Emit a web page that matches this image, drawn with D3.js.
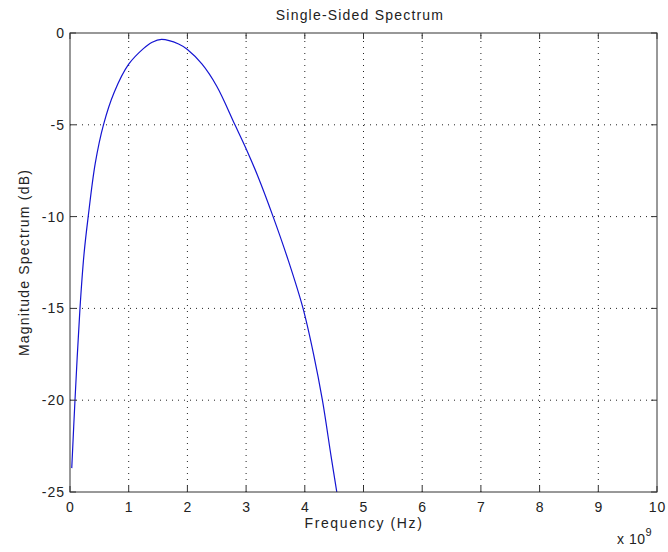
<!DOCTYPE html>
<html lang="en">
<head>
    <meta charset="UTF-8">
    <title>Single-Sided Spectrum</title>
    <script src="https://cdn.jsdelivr.net/npm/d3@7"></script>
    <style>
        body {
            margin: 0;
            background: #fff;
        }

        svg {
            display: block;
            font-family: "Liberation Sans", Arial, sans-serif;
        }

        .box {
            fill: none;
            stroke: #333;
            stroke-width: 1px;
        }

        .grid line {
            stroke: #222;
            stroke-width: 1px;
            stroke-dasharray: 1, 5;
        }

        .tick-mark {
            stroke: #333;
            stroke-width: 1px;
        }

        .tick-label {
            font-size: 14px;
            letter-spacing: 1px;
            fill: #222;
        }

        .label {
            font-size: 14px;
            letter-spacing: 1.2px;
            fill: #222;
        }

        .spectrum {
            fill: none;
            stroke: #1414d2;
            stroke-width: 1.2px;
        }
    </style>
</head>
<body>
<svg width="668" height="552"></svg>
<script>

    // frequency in units of 1e9 Hz, magnitude in dB
    var freq = [0.03, 0.085, 0.17, 0.24, 0.31, 0.43, 0.57, 0.75, 1.0, 1.25, 1.4, 1.56,
        1.85, 2.0, 2.25, 2.5, 2.81, 3.0, 3.2, 3.46, 3.72, 3.97, 4.15, 4.3, 4.45, 4.56];
    var magDb = [-23.7, -20, -15, -12, -10, -7.1, -5, -3.25, -1.7, -0.85, -0.5, -0.35,
        -0.6, -0.9, -1.7, -2.9, -5, -6.3, -7.8, -10, -12.4, -15, -17.5, -20, -23.1, -25.3];

    var xTicks = [0, 1, 2, 3, 4, 5, 6, 7, 8, 9, 10];
    var yTicks = [0, -5, -10, -15, -20, -25];

    var svg = d3.select('svg');

    var plotLeft = 70, plotRight = 657, plotTop = 33, plotBottom = 492;
    var tickLen = 6;

    var x = d3.scaleLinear()
        .domain([0, 10])
        .range([plotLeft, plotRight]);

    var y = d3.scaleLinear()
        .domain([-25, 0])
        .range([plotBottom, plotTop]);

    // grid
    var grid = svg.append('g').attr('class', 'grid');
    xTicks.slice(1, -1).forEach(function (t) {
        grid.append('line')
            .attr('x1', x(t)).attr('x2', x(t))
            .attr('y1', plotBottom).attr('y2', plotTop);
    });
    yTicks.slice(1, -1).forEach(function (t) {
        grid.append('line')
            .attr('x1', plotLeft).attr('x2', plotRight)
            .attr('y1', y(t)).attr('y2', y(t));
    });

    // curve, clipped to the axes box
    svg.append('clipPath').attr('id', 'plot-clip')
        .append('rect')
        .attr('x', plotLeft).attr('y', plotTop)
        .attr('width', plotRight - plotLeft).attr('height', plotBottom - plotTop);

    var points = freq.map(function (f, i) { return [f, magDb[i]]; });

    var line = d3.line()
        .x(function (d) { return x(d[0]); })
        .y(function (d) { return y(d[1]); })
        .curve(d3.curveCatmullRom.alpha(0.5));

    svg.append('path')
        .datum(points)
        .attr('class', 'spectrum')
        .attr('clip-path', 'url(#plot-clip)')
        .attr('d', line);

    // ticks (inward, on all four sides)
    var ticks = svg.append('g');
    xTicks.forEach(function (t) {
        ticks.append('line').attr('class', 'tick-mark')
            .attr('x1', x(t)).attr('x2', x(t))
            .attr('y1', plotBottom).attr('y2', plotBottom - tickLen);
        ticks.append('line').attr('class', 'tick-mark')
            .attr('x1', x(t)).attr('x2', x(t))
            .attr('y1', plotTop).attr('y2', plotTop + tickLen);
        ticks.append('text').attr('class', 'tick-label')
            .attr('x', x(t) + 0.5)
            .attr('y', plotBottom + 20)
            .attr('text-anchor', 'middle')
            .text(t);
    });
    yTicks.forEach(function (t) {
        ticks.append('line').attr('class', 'tick-mark')
            .attr('x1', plotLeft).attr('x2', plotLeft + tickLen)
            .attr('y1', y(t)).attr('y2', y(t));
        ticks.append('line').attr('class', 'tick-mark')
            .attr('x1', plotRight).attr('x2', plotRight - tickLen)
            .attr('y1', y(t)).attr('y2', y(t));
        ticks.append('text').attr('class', 'tick-label')
            .attr('x', plotLeft - 5)
            .attr('y', y(t) + 5)
            .attr('text-anchor', 'end')
            .text(t);
    });

    svg.append('rect')
        .attr('class', 'box')
        .attr('x', plotLeft).attr('y', plotTop)
        .attr('width', plotRight - plotLeft).attr('height', plotBottom - plotTop);

    // labels
    svg.append('text').attr('class', 'label')
        .attr('x', 360)
        .attr('y', 20)
        .attr('text-anchor', 'middle')
        .text('Single-Sided Spectrum');

    svg.append('text').attr('class', 'label')
        .attr('x', 364)
        .attr('y', 528)
        .attr('text-anchor', 'middle')
        .style('letter-spacing', '1.6px')
        .text('Frequency (Hz)');

    svg.append('text').attr('class', 'label')
        .attr('transform', 'translate(29,' + ((plotTop + plotBottom) / 2) + ') rotate(-90)')
        .attr('text-anchor', 'middle')
        .text('Magnitude Spectrum (dB)');

    var expo = svg.append('text').attr('class', 'label')
        .attr('x', 617)
        .attr('y', 544)
        .style('letter-spacing', '0.5px');
    expo.append('tspan').text('x 10');
    expo.append('tspan')
        .attr('dy', -8)
        .style('font-size', '11px')
        .text('9');

</script>
</body>
</html>
